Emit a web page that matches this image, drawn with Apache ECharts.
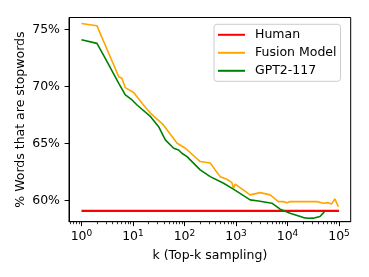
<!DOCTYPE html>
<html>
<head>
<meta charset="utf-8">
<script src="https://cdn.jsdelivr.net/npm/echarts@6/dist/echarts.min.js"></script>
<style>html,body{margin:0;padding:0;background:#fff}#c{width:369px;height:277px}</style>
</head>
<body>
<div id="c"></div>
<script>
var FONT = 'DejaVu Sans';
var seriesNames = ['Human', 'Fusion Model', 'GPT2-117'];
var seriesColors = ['#ff0000', '#ffa500', '#008000'];

var humanK = [1, 100000];
var humanV = [59.1, 59.1];

var fusionK = [1, 2, 5.3, 6.1, 7.1, 10.3, 16, 22, 39, 72, 104, 202, 316, 395, 494, 666, 832, 894, 964, 1884, 2943, 4600, 6670, 8320, 9800, 11200, 20400, 37000, 50000, 61600, 72000, 83000, 97000];
var fusionV = [75.52, 75.32, 70.86, 70.72, 69.9, 69.47, 68.38, 67.65, 66.63, 65.03, 64.59, 63.42, 63.3, 62.69, 62.1, 61.87, 61.58, 61.09, 61.44, 60.5, 60.7, 60.5, 59.91, 59.91, 59.82, 59.91, 59.91, 59.91, 59.77, 59.82, 59.71, 60.15, 59.47];

var gptK = [1, 2, 2.9, 5.3, 7.1, 9.6, 12, 22, 31.5, 42.5, 61.7, 77, 89, 112, 202, 316, 573, 891, 1884, 2730, 4970, 7200, 11200, 20400, 25000, 31600, 42700, 51900];
var gptV = [74.1, 73.78, 72.47, 70.28, 69.26, 68.82, 68.38, 67.36, 66.48, 65.32, 64.59, 64.44, 64.15, 63.85, 62.69, 62.1, 61.52, 61.0, 60.06, 59.97, 59.77, 59.25, 58.9, 58.51, 58.45, 58.46, 58.6, 59.01];

var xMajorTicks = [1, 10, 100, 1000, 10000, 100000];
var yTicks = [60, 65, 70, 75];

function pairs(k, v) { return k.map(function (x, i) { return [x, v[i]]; }); }
var xMinorTicks = [];
[0.1, 1, 10, 100, 1000, 10000].forEach(function (d) {
  for (var m = 2; m <= 9; m++) { var t = +(m * d).toPrecision(3); if (t > 0.573) xMinorTicks.push(t); }
});

var chart = echarts.init(document.getElementById('c'), null, {renderer: 'canvas'});
var xMin = 0.573, xMax = 168600;
var baseX = {
  type: 'log', logBase: 10, min: xMin, max: xMax, gridIndex: 0, position: 'bottom',
  splitLine: {show: false}, minorTick: {show: false}, minorSplitLine: {show: false}
};
chart.setOption({
  animation: false,
  backgroundColor: '#fff',
  textStyle: {fontFamily: FONT},
  grid: {left: 69, right: 18.3, top: 17.5, bottom: 55.3, show: true, borderColor: '#000', borderWidth: 1, backgroundColor: 'transparent'},
  legend: {
    orient: 'vertical', left: 214, top: 24.3,
    data: seriesNames.map(function (n) { return {name: n, icon: 'rect'}; }),
    itemWidth: 27, itemHeight: 2, itemGap: 5,
    padding: [4, 4, 4, 4],
    borderColor: '#cccccc', borderWidth: 1, borderRadius: 3, backgroundColor: 'rgba(255,255,255,0.8)',
    textStyle: {fontFamily: FONT, fontSize: 12.5, color: '#000', padding: [0, 0, 0, 5]}
  },
  xAxis: [
    Object.assign({}, baseX, {
      name: 'k (Top-k sampling)', nameLocation: 'middle', nameGap: 27.7, nameMoveOverlap: false,
      nameTextStyle: {fontFamily: FONT, fontSize: 12.5, color: '#000'},
      axisLine: {show: true, lineStyle: {color: '#000', width: 1}},
      axisTick: {show: true, length: 4.4, lineStyle: {color: '#000', width: 1}, customValues: xMajorTicks},
      axisLabel: {
        show: true, margin: 7, customValues: xMajorTicks,
        formatter: function (v) { return '{b|10}{s|' + Math.round(Math.log10(v)) + '}'; },
        rich: {
          b: {fontFamily: FONT, fontSize: 12.5, color: '#000'},
          s: {fontFamily: FONT, fontSize: 9, color: '#000', padding: [0, 0, 7, 0]}
        }
      }
    }),
    Object.assign({}, baseX, {
      axisLine: {show: false},
      axisTick: {show: true, length: 2.5, lineStyle: {color: '#000', width: 0.8}, customValues: xMinorTicks},
      axisLabel: {show: false}
    })
  ],
  yAxis: {
    type: 'value', min: 58.15, max: 76.05,
    splitLine: {show: false},
    name: '% Words that are stopwords', nameLocation: 'middle', nameGap: 41.5, nameRotate: 90, nameMoveOverlap: false,
    nameTextStyle: {fontFamily: FONT, fontSize: 12.5, color: '#000'},
    axisLine: {show: true, lineStyle: {color: '#000', width: 1}},
    axisTick: {show: true, length: 4.4, lineStyle: {color: '#000', width: 1}, customValues: yTicks},
    axisLabel: {show: true, margin: 9, customValues: yTicks, fontFamily: FONT, fontSize: 12.5, color: '#000',
      formatter: function (v) { return v + '%'; }}
  },
  series: [
    {name: seriesNames[0], type: 'line', data: pairs(humanK, humanV), symbol: 'none', color: seriesColors[0], lineStyle: {width: 2.2, color: seriesColors[0]}},
    {name: seriesNames[1], type: 'line', data: pairs(fusionK, fusionV), symbol: 'none', color: seriesColors[1], lineStyle: {width: 1.6, color: seriesColors[1]}},
    {name: seriesNames[2], type: 'line', data: pairs(gptK, gptV), symbol: 'none', color: seriesColors[2], lineStyle: {width: 1.6, color: seriesColors[2]}}
  ]
});
</script>
</body>
</html>
